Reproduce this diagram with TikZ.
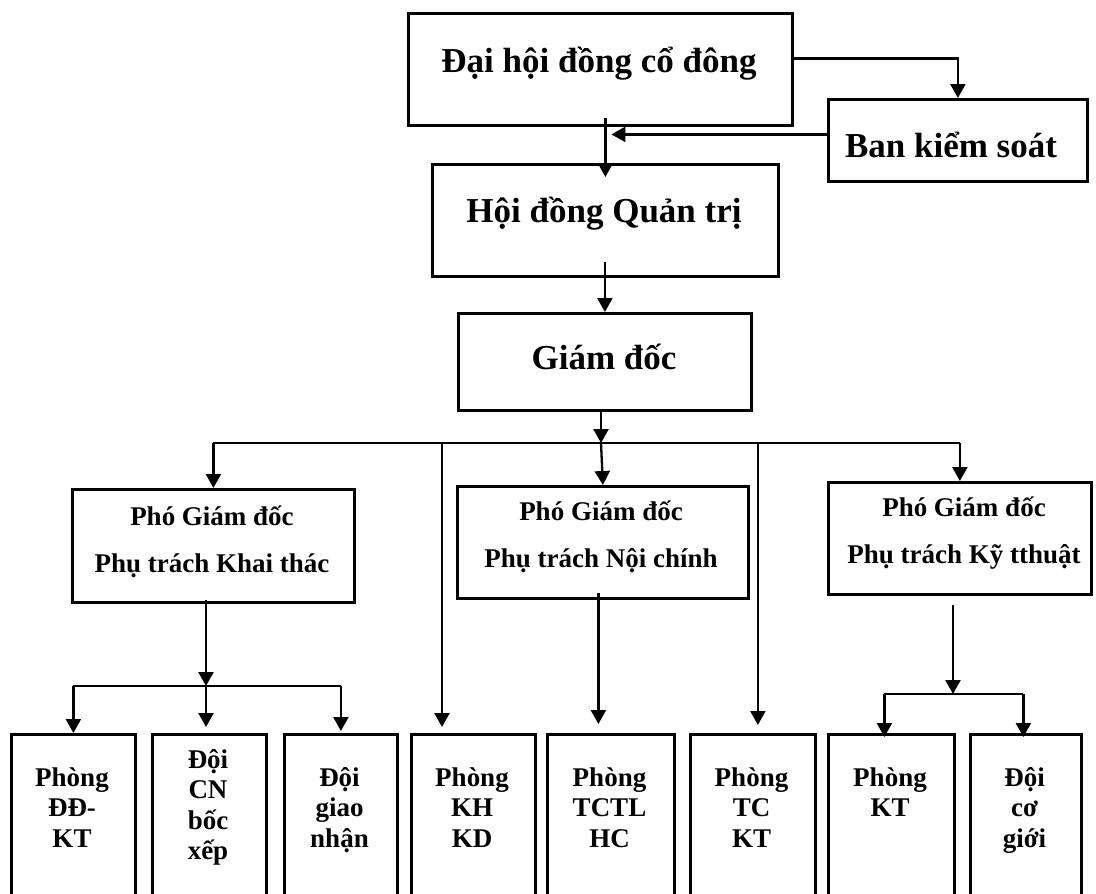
\documentclass[tikz,border=0pt]{standalone}
\usepackage{fontspec}
\setmainfont{Liberation Serif}
\usetikzlibrary{arrows.meta}
\begin{document}
\begin{tikzpicture}[x=1pt,y=-1pt,
  box/.style={draw, line width=2.8pt, inner sep=0pt, anchor=north west},
  big/.style={font=\fontsize{35}{42}\selectfont\bfseries, anchor=base, inner sep=0pt},
  mid/.style={font=\fontsize{27}{47}\selectfont\bfseries, anchor=base, inner sep=0pt, align=center},
  small/.style={font=\fontsize{27}{30.5}\selectfont\bfseries, anchor=base, inner sep=0pt, align=center},
  conn/.style={line width=2.3pt},
  arr/.style={conn, -{Triangle[length=14pt,width=15pt]}}
]
\clip (0,0) rectangle (1096,894);
% boxes
\node[box, minimum width=384, minimum height=112] (dh) at (407,12) {};
\node[box, minimum width=259, minimum height=82] (bks) at (827,98) {};
\node[box, minimum width=346, minimum height=112] (hdqt) at (431,163) {};
\node[box, minimum width=293, minimum height=97] (gd) at (457,312) {};
\node[box, minimum width=282, minimum height=113] (pk) at (71,488) {};
\node[box, minimum width=291, minimum height=112] (pn) at (456,485) {};
\node[box, minimum width=263, minimum height=112] (pt) at (827,481) {};
\node[box, minimum width=124, minimum height=220] (b1) at (10,733) {};
\node[box, minimum width=114, minimum height=220] (b2) at (151,733) {};
\node[box, minimum width=113, minimum height=220] (b3) at (283,733) {};
\node[box, minimum width=124, minimum height=220] (b4) at (410,733) {};
\node[box, minimum width=127, minimum height=220] (b5) at (546,733) {};
\node[box, minimum width=125, minimum height=220] (b6) at (689,733) {};
\node[box, minimum width=126, minimum height=220] (b7) at (827,733) {};
\node[box, minimum width=111, minimum height=220] (b8) at (969,733) {};
% texts (base anchor = baseline of the last line)
\node[big] (dht) at (599,72) {Đại hội đồng cổ đông};
\node[big] (bkst) at (951,157) {Ban kiểm soát};
\node[big] (hdqtt) at (604,222) {Hội đồng Quản trị};
\node[big] (gdt) at (604,369) {Giám đốc};
\node[mid] (pkt) at (212,572) {Phó Giám đốc\\Phụ trách Khai thác};
\node[mid] (pnt) at (601,567) {Phó Giám đốc\\Phụ trách Nội chính};
\node[mid] (ptt) at (964,563) {Phó Giám đốc\\Phụ trách Kỹ tthuật};
\node[small] (b1t) at (72,847) {Phòng\\ĐĐ-\\KT};
\node[small] (b2t) at (208,859.5) {Đội\\CN\\bốc\\xếp};
\node[small] (b3t) at (339.5,847) {Đội\\giao\\nhận};
\node[small] (b4t) at (472,847) {Phòng\\KH\\KD};
\node[small] (b5t) at (609.5,847) {Phòng\\TCTL\\HC};
\node[small] (b6t) at (751.5,847) {Phòng\\TC\\KT};
\node[small] (b7t) at (890,816.5) {Phòng\\KT};
\node[small] (b8t) at (1024.5,847) {Đội\\cơ\\giới};
% junction coordinates
\coordinate (bus) at (601,443);
\coordinate (sb1) at (206,686);
\coordinate (sb2) at (953,694);
\coordinate (pnx) at ([xshift=-4.5pt]pn.south);
\coordinate (k1) at ([xshift=-7pt]b7.north);
\coordinate (k2) at ([xshift=-2.5pt]b8.north);
% connectors
\draw[arr] ([yshift=9pt]hdqt.north |- dh.south) -- ([yshift=-14pt]hdqt.north);
\draw[arr] ([yshift=11pt]dh.east) -| (bks.north);
\draw[arr] ([yshift=6pt]bks.west) -- ([xshift=6pt,yshift=6pt]bks.west -| hdqt.north);
\draw[arr] ([yshift=16pt]gd.north |- hdqt.south) -- (gd.north);
\draw[arr] (bus |- gd.south) -- (bus);
\draw[conn] (pk.north |- bus) -- (pt.north |- bus);
\draw[arr] (pk.north |- bus) -- (pk.north);
\draw[arr] (bus) -- (pn.north);
\draw[arr] (pt.north |- bus) -- (pt.north);
\draw[arr] ([xshift=32pt]b4.north west |- bus) -- ([xshift=32pt,yshift=6pt]b4.north west);
\draw[arr] ([xshift=5pt]b6.north |- bus) -- ([xshift=5pt,yshift=8pt]b6.north);
\draw[arr] ([yshift=4pt]sb1 |- pk.south) -- (sb1);
\draw[conn] (b1.north |- sb1) -- (b3.north |- sb1);
\draw[arr] (b1.north |- sb1) -- (b1.north);
\draw[arr] (sb1) -- ([yshift=6pt]b2.north -| sb1);
\draw[arr] (b3.north |- sb1) -- ([yshift=2pt]b3.north);
\draw[arr] ([yshift=7pt]pnx) -- ([yshift=9pt]b5.north -| pnx);
\draw[arr] ([yshift=-9pt]sb2 |- pt.south) -- (sb2);
\draw[conn] (k1 |- sb2) -- (k2 |- sb2);
\draw[arr] (k1 |- sb2) -- ([yshift=-4pt]k1);
\draw[arr] (k2 |- sb2) -- ([yshift=-4pt]k2);
\end{tikzpicture}
\end{document}
